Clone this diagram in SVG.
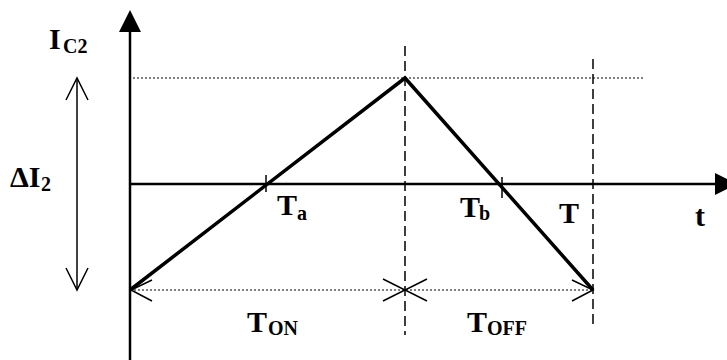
<svg xmlns="http://www.w3.org/2000/svg" width="727" height="360" viewBox="0 0 727 360">
<style>
.lbl{font-family:"Liberation Serif","Times New Roman",serif;font-weight:bold;font-size:30px;fill:#000}
.sub{font-size:20px}
.axis{stroke:#000;stroke-width:2.5;fill:none}
.wave{stroke:#000;stroke-width:3.5;fill:none;stroke-linejoin:miter}
.dash{stroke:#000;stroke-width:1.5;stroke-dasharray:10 5;fill:none}
.dot{stroke:#000;stroke-width:1.2;stroke-dasharray:2 2;fill:none}
.thin{stroke:#000;stroke-width:1.5;fill:none}
.tick{stroke:#000;stroke-width:1.5;fill:none}
</style>
<g id="connectors">
<line class="dot" x1="133" y1="78" x2="645" y2="78"/>
<line class="dot" x1="130" y1="290" x2="593" y2="290"/>
<line class="dash" x1="405" y1="46" x2="405" y2="335"/>
<line class="dash" x1="593" y1="59" x2="593" y2="328"/>
<line class="axis" x1="130" y1="30" x2="130" y2="360"/>
<polygon points="130,10 119,32 141,32" fill="#000"/>
<line class="axis" x1="130" y1="184" x2="716" y2="184"/>
<polygon points="737,184 715,173 715,195" fill="#000"/>
<polyline class="wave" points="130,290 405,78 593,290"/>
<line class="tick" x1="266" y1="175" x2="266" y2="192"/>
<line class="tick" x1="502" y1="177" x2="502" y2="198"/>
<line class="thin" x1="77" y1="79" x2="77" y2="290"/>
<polyline class="thin" points="66,100 77,78 88,100"/>
<polyline class="thin" points="66,268 77,290 88,268"/>
<polyline class="thin" points="152,280 131,290 152,301"/>
<polyline class="thin" points="383,279 405,290 383,301"/>
<polyline class="thin" points="427,279 405,290 427,301"/>
<polyline class="thin" points="572,280 593,290 572,301"/>
</g>
<g id="label-ic2"><text class="lbl" x="49" y="49">I<tspan class="sub" x="63" y="53">C2</tspan></text></g>
<g id="label-di2"><text class="lbl" x="10" y="187">ΔI<tspan class="sub" x="41" y="191">2</tspan></text></g>
<g id="label-ta"><text class="lbl" x="277" y="215">T<tspan class="sub" x="297" y="220">a</tspan></text></g>
<g id="label-tb"><text class="lbl" x="460" y="217">T<tspan class="sub" x="479" y="220">b</tspan></text></g>
<g id="label-T"><text class="lbl" x="559" y="223">T</text></g>
<g id="label-t"><text class="lbl" x="695" y="226">t</text></g>
<g id="label-ton"><text class="lbl" x="247" y="332">T<tspan class="sub" x="268" y="335">ON</tspan></text></g>
<g id="label-toff"><text class="lbl" x="467" y="332">T<tspan class="sub" x="487" y="335">OFF</tspan></text></g>
</svg>
